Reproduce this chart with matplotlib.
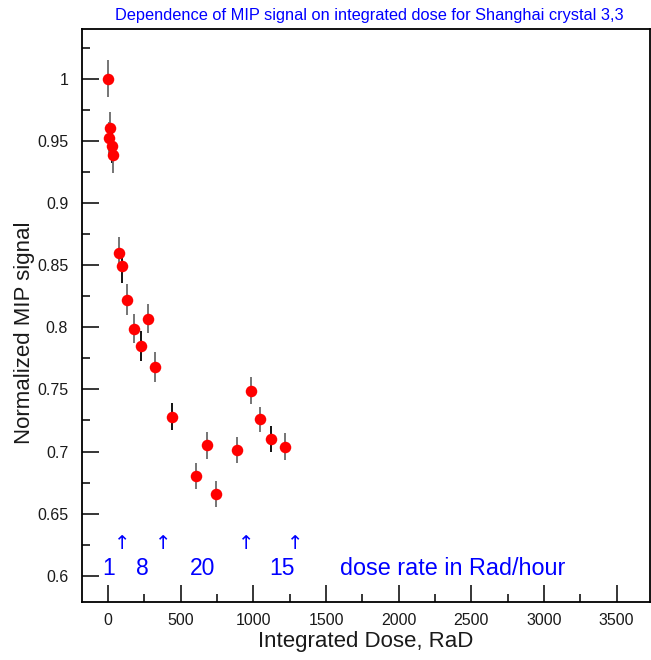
import matplotlib
matplotlib.use("Agg")
import matplotlib.pyplot as plt
from matplotlib.ticker import MultipleLocator

# Integrated dose (RaD) and normalized MIP signal with errors
dose = [0, 14, 7, 25, 34, 76, 96, 131, 177, 275, 229, 325, 442,
        603, 679, 741, 885, 981, 1043, 1123, 1217]
signal = [1.000, 0.960, 0.952, 0.946, 0.939, 0.860, 0.849, 0.822, 0.799,
          0.807, 0.785, 0.768, 0.728, 0.680, 0.705, 0.666, 0.701, 0.749,
          0.726, 0.710, 0.704]
signal_err = [0.015, 0.013, 0.013, 0.014, 0.0145, 0.0125, 0.013, 0.0125,
              0.012, 0.012, 0.012, 0.012, 0.011, 0.0105, 0.0107, 0.0107,
              0.0105, 0.0107, 0.010, 0.0105, 0.0107]
# points whose error bar belongs to the second (black) run
black_run = [False, False, False, True, False, False, True, False, False,
             False, True, False, True, False, False, False, False, False,
             False, True, False]

# dose-rate change markers and labels
rate_change_dose = [96, 378, 953, 1284]
rate_labels = ["1", "8", "20", "15"]
rate_label_dose = [2, 234, 647, 1197]

FONT = ["Liberation Sans", "DejaVu Sans"]
plt.rcParams["font.family"] = FONT

fig = plt.figure(figsize=(6.51, 6.60), dpi=100)
ax = fig.add_axes([0.126, 0.088, 0.8725, 0.868])

for x, y, e, blk in zip(dose, signal, signal_err, black_run):
    ax.errorbar(x, y, yerr=e, fmt="none",
                ecolor="black" if blk else "#6a6a6a", elinewidth=1.3,
                capsize=0, zorder=2)
ax.plot(dose, signal, "o", color="#ff0000", markersize=8.3,
        markeredgewidth=0, zorder=3)

ax.set_xlim(-180, 3730)
ax.set_ylim(0.579, 1.040)

ax.xaxis.set_major_locator(MultipleLocator(500))
ax.xaxis.set_minor_locator(MultipleLocator(250))
ax.yaxis.set_major_locator(MultipleLocator(0.05))
ax.yaxis.set_minor_locator(MultipleLocator(0.025))
ax.tick_params(which="both", direction="in", top=False, right=False,
               width=1.1, labelsize=11.5, labelcolor="#1a1a1a")
ax.tick_params(which="major", length=12)
ax.tick_params(which="minor", length=6)
ax.tick_params(axis="y", pad=10)
ax.tick_params(axis="x", pad=8)
ax.yaxis.set_major_formatter(plt.FuncFormatter(lambda v, p: f"{v:g}"))

for s in ax.spines.values():
    s.set_linewidth(1.3)

ax.set_xlabel("Integrated Dose, RaD", fontsize=16, labelpad=2,
              color="#1a1a1a")
ax.set_ylabel("Normalized MIP signal", fontsize=16, color="#1a1a1a")
ax.yaxis.set_label_coords(-0.083, 0.47)

for xd in rate_change_dose:
    ax.text(xd, 0.626, "\u2191", color="blue", fontsize=14,
            ha="center", va="center", family=["DejaVu Sans"])
for xd, lab in zip(rate_label_dose, rate_labels):
    ax.text(xd, 0.6055, lab, color="blue", fontsize=16.5,
            ha="center", va="center")
ax.text(1596, 0.6055, "dose rate in Rad/hour", color="blue", fontsize=16.8,
        ha="left", va="center")

fig.text(0.568, 0.976, "Dependence of MIP signal on integrated dose for "
         "Shanghai crystal 3,3", color="blue", fontsize=11.8,
         ha="center", va="center")

fig.savefig("out.png", dpi=100)
